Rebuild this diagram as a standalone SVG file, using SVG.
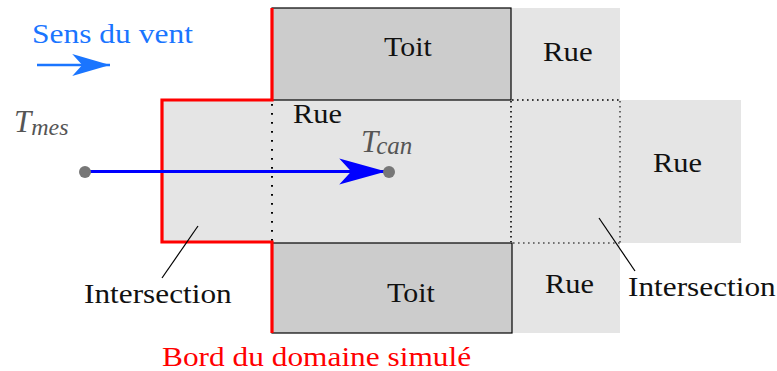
<svg xmlns="http://www.w3.org/2000/svg" width="777" height="371" viewBox="0 0 777 371">
<style>
.rue{fill:#e5e5e5}
.toit{fill:#cccccc;stroke:#000;stroke-width:1.2}
.dot{fill:none;stroke:#000;stroke-width:2;stroke-dasharray:1.8 7.2}
.dot2{fill:none;stroke:#000;stroke-width:1.6;stroke-dasharray:1.6 3.4}
.dot3{fill:none;stroke:#000;stroke-width:1.1;stroke-dasharray:1.6 3.4}
.lead{stroke:#000;stroke-width:1.2}
</style>
<defs>
<marker id="blueHead" markerUnits="userSpaceOnUse" markerWidth="50" markerHeight="30" refX="43" refY="12" orient="auto" viewBox="0 0 46 24">
<path d="M0,0 L43,12 L0,24 L11,12 Z" fill="#0000ff"/>
</marker>
<marker id="windHead" markerUnits="userSpaceOnUse" markerWidth="40" markerHeight="24" refX="34" refY="10" orient="auto" viewBox="0 0 36 20">
<path d="M0,0 L34,10 L0,20 L9,10 Z" fill="#1a75ff"/>
</marker>
</defs>
<g id="rue-middle"><rect class="rue" x="162" y="100" width="579" height="143"/><text transform="translate(293,123) scale(1.086,1)" font-family="Liberation Serif" font-size="28" fill="#111">Rue</text></g>
<g id="rue-top-right"><rect class="rue" x="511" y="8" width="109" height="92"/><text transform="translate(543,61) scale(1.1,1)" font-family="Liberation Serif" font-size="28" fill="#111">Rue</text></g>
<g id="rue-right"><text transform="translate(653,172) scale(1.086,1)" font-family="Liberation Serif" font-size="28" fill="#111">Rue</text></g>
<g id="rue-bottom-right"><rect class="rue" x="512" y="243" width="108" height="90"/><text transform="translate(545,293) scale(1.086,1)" font-family="Liberation Serif" font-size="28" fill="#111">Rue</text></g>
<g id="toit-top"><rect class="toit" x="272" y="8" width="239" height="92"/><text transform="translate(384,56) scale(1.07,1)" font-family="Liberation Serif" font-size="28" fill="#111">Toit</text></g>
<g id="toit-bottom"><rect class="toit" x="272" y="243" width="240" height="90"/><text transform="translate(387,302) scale(1.07,1)" font-family="Liberation Serif" font-size="28" fill="#111">Toit</text></g>
<g id="intersections">
<line class="dot" x1="272" y1="104" x2="272" y2="242"/>
<line class="dot2" x1="511" y1="101" x2="511" y2="242"/>
<line class="dot2" x1="512" y1="100" x2="620" y2="100"/>
<line class="dot3" x1="620" y1="101" x2="620" y2="243"/>
<line class="dot3" x1="513" y1="243" x2="620" y2="243"/>
</g>
<g id="boundary">
<path d="M272,8 V100 H162 V242 H272 V333" fill="none" stroke="#ff0000" stroke-width="3.2"/>
<text transform="translate(162,366) scale(1.12,1)" font-family="Liberation Serif" font-size="28" fill="#ff0000">Bord du domaine simulé</text>
</g>
<g id="wind">
<line x1="37" y1="65" x2="110" y2="65" stroke="#1a75ff" stroke-width="2.6" marker-end="url(#windHead)"/>
<text transform="translate(32,43) scale(1.125,1)" font-family="Liberation Serif" font-size="28" fill="#1a75ff">Sens du vent</text>
</g>
<g id="connectors">
<line x1="85" y1="171.5" x2="386" y2="171.5" stroke="#0000ff" stroke-width="2.8" marker-end="url(#blueHead)"/>
<line class="lead" x1="198" y1="226" x2="162" y2="278"/>
<line class="lead" x1="599" y1="218" x2="635" y2="271"/>
</g>
<g id="t-mes">
<circle cx="85" cy="172" r="6" fill="#777"/>
<text x="14" y="132" fill="#555" font-family="Liberation Serif" font-style="italic" font-size="31">T<tspan font-size="24" dy="3">mes</tspan></text>
</g>
<g id="t-can">
<circle cx="389" cy="172" r="6" fill="#777"/>
<text x="361" y="152" fill="#555" font-family="Liberation Serif" font-style="italic" font-size="31">T<tspan font-size="25" dy="2" dx="-2">can</tspan></text>
</g>
<g id="label-intersection-left"><text transform="translate(84,303) scale(1.118,1)" font-family="Liberation Serif" font-size="28" fill="#111">Intersection</text></g>
<g id="label-intersection-right"><text transform="translate(628,296) scale(1.118,1)" font-family="Liberation Serif" font-size="28" fill="#111">Intersection</text></g>
</svg>
